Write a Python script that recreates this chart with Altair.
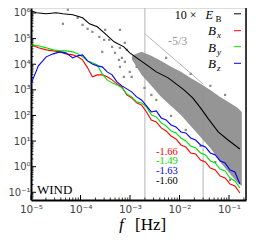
import altair as alt
import pandas as pd

# ---------------- data ----------------
freq = [1.0e-5, 1.41e-5, 2.03e-5, 2.80e-5, 3.85e-5, 5.07e-5, 6.98e-5, 8.77e-5, 1.10e-4, 1.39e-4,
        1.74e-4, 2.19e-4, 2.75e-4, 3.46e-4, 4.35e-4, 5.46e-4, 6.86e-4, 8.62e-4, 1.08e-3, 1.36e-3,
        1.71e-3, 2.15e-3, 2.70e-3, 3.40e-3, 4.27e-3, 5.37e-3, 6.75e-3, 8.48e-3, 1.07e-2, 1.34e-2,
        1.68e-2, 2.12e-2, 2.66e-2, 3.34e-2, 4.20e-2, 5.28e-2, 6.63e-2, 8.34e-2, 0.105, 0.132, 0.166]
bx = [5.71e4, 4.36e4, 3.64e4, 3.33e4, 3.04e4, 2.54e4, 2.32e4, 1.94e4, 1.48e4, 7.21e3,
      3.21e3, 3.84e3, 3.84e3, 3.21e3, 2.45e3, 1.71e3, 1.30e3, 634, 484, 309,
      258, 137, 66.8, 55.8, 32.5, 24.8, 15.8, 12.1, 7.04, 5.88,
      3.43, 3.13, 1.82, 1.52, 0.888, 0.742, 0.432, 0.361, 0.210, 0.176, 0.0936]
by = [5.71e4, 5.22e4, 4.36e4, 3.64e4, 3.33e4, 3.33e4, 3.04e4, 2.54e4, 1.94e4, 1.35e4,
      1.13e4, 9.44e3, 4.20e3, 2.45e3, 1.87e3, 1.56e3, 1.19e3, 694, 530, 338,
      309, 215, 105, 87.5, 51.0, 38.9, 24.8, 20.7, 13.2, 10.1,
      6.44, 5.37, 3.43, 2.86, 1.67, 1.39, 0.812, 0.678, 0.361, 0.276, 0.147]
bz = [1.71e3, 8.63e3, 1.94e4, 2.54e4, 3.04e4, 2.78e4, 1.77e4, 2.12e4, 2.32e4, 1.35e4,
      1.03e4, 8.63e3, 7.89e3, 5.03e3, 3.84e3, 2.05e3, 1.43e3, 1.09e3, 831, 530,
      404, 236, 137, 150, 80.0, 66.8, 42.6, 35.6, 22.7, 20.7,
      13.2, 11.0, 7.04, 5.88, 3.43, 2.86, 1.67, 1.39, 0.742, 0.620, 0.210]

eb_f = [1.0e-5, 1.29e-5, 2.03e-5, 3.21e-5, 4.42e-5, 6.98e-5, 1.10e-4, 1.52e-4, 2.19e-4, 3.02e-4,
        4.77e-4, 7.52e-4, 9.89e-4, 1.56e-3, 2.47e-3, 3.40e-3, 5.91e-3, 8.53e-3, 1.23e-2, 1.85e-2,
        2.66e-2, 3.83e-2, 6.05e-2, 9.57e-2, 0.166]
eb_v = [1.22e6, 1.02e6, 9.3e5, 1.02e6, 9.3e5, 8.5e5, 6.5e5, 3.78e5, 2.88e5, 1.68e5,
        7.48e4, 4.77e4, 2.78e4, 1.48e4, 7.88e3, 5.03e3, 2.93e3, 1.71e3, 995, 484,
        197, 73.1, 22.7, 11.0, 4.91]

band_f = [1.1e-3, 1.71e-3, 2.70e-3, 4.27e-3, 6.75e-3, 1.07e-2, 1.68e-2, 2.66e-2, 4.20e-2, 6.63e-2, 0.105, 0.151, 0.181]
band_hi = [2.2e4, 3.04e4, 2.12e4, 1.35e4, 7.89e3, 5.03e3, 2.93e3, 1.71e3, 995, 530, 309, 197, 137]
band_lo = [1.5e4, 3.84e3, 1.43e3, 530, 236, 105, 38.9, 14.5, 5.37, 1.52, 0.518, 0.230, 0.176]

pts_f = [5.55e-5, 4.42e-5, 8.77e-5, 1.10e-4, 1.39e-4, 1.74e-4, 2.40e-4, 3.15e-4, 3.01e-4, 3.79e-4,
         2.75e-4, 4.35e-4, 4.98e-4, 6.26e-4, 6.26e-4, 6.86e-4, 7.87e-4, 7.87e-4, 8.62e-4, 5.98e-4,
         6.26e-4, 9.89e-4, 1.19e-3, 1.36e-3, 7.52e-4, 1.08e-3, 1.96e-3, 2.70e-3, 3.40e-3, 6.75e-3,
         1.34e-2, 2.66e-2, 5.28e-2, 0.105, 5.37e-3, 1.68e-2, 4.20e-2, 8.34e-2]
pts_v = [1.33e6, 3.78e5, 6.49e5, 3.46e5, 2.41e5, 1.84e5, 1.17e5, 2.20e5, 8.96e4, 8.96e4,
         3.04e4, 4.77e4, 2.78e4, 2.20e5, 4.36e4, 1.77e4, 6.84e4, 1.24e4, 3.64e4, 1.48e4,
         7.89e3, 5.03e3, 1.77e4, 7.89e3, 3.21e3, 3.21e3, 1.19e3, 634, 404, 95.8,
         27.2, 6.44, 1.52, 0.302, 1.77e4, 4.20e3, 1.43e3, 634]

vline_f = [2e-3, 0.03]
vline_top = [1.6e6, 1.2e3]
vline_bot = [0.05, 0.05]

ref_f = [2e-3, 3e-2]
ref_v = [1.54e5, 1.69e3]

series_names = ["Bx", "By", "Bz"]
series_colors = ["#ff0000", "#00e000", "#0000ff"]
slope_texts = ["-1.66", "-1.49", "-1.63", "-1.60"]
slope_colors = ["#ff0000", "#00e000", "#0000ff", "#000000"]
legend_subs = ["x", "y", "z"]
x_ticks = [1e-5, 1e-4, 1e-3, 1e-2, 1e-1]
y_ticks = [1e-1, 1e0, 1e1, 1e2, 1e3, 1e4, 1e5, 1e6]

# ---------------- layout (page pixels) ----------------
L, T = 31, 8          # plot-area origin on the page
W, H = 215, 192
SERIF = "Liberation Serif"
xs = alt.Scale(type="log", domain=[1e-5, 0.2205], nice=False)
ys = alt.Scale(type="log", domain=[0.05, 1.567e6], nice=False)

sup = {-5: "⁻⁵", -4: "⁻⁴", -3: "⁻³", -2: "⁻²", -1: "⁻¹", 0: "⁰", 1: "¹", 2: "²",
       3: "³", 4: "⁴", 5: "⁵", 6: "⁶"}
E = "round(log(datum.value)/LN10)"
label_expr = " : ".join(f"{E} == {k} ? '10{s}'" for k, s in sup.items()) + " : ''"

xaxis = alt.Axis(values=x_ticks, labelExpr=label_expr, ticks=False, grid=False, title=None,
                 domainColor="black", domainWidth=2, labelFont="DejaVu Sans", labelFontSize=10.5,
                 labelColor="#444", labelPadding=4, labelFlush=False, labelOverlap=False)
yaxis = alt.Axis(values=y_ticks, labelExpr=label_expr, ticks=False, grid=False, title=None,
                 domainColor="black", domainWidth=2, labelFont="DejaVu Sans", labelFontSize=10,
                 labelColor="#444", labelPadding=1, labelFlush=False, labelOverlap=False)


def X(field):
    return alt.X(field, type="quantitative", scale=xs, axis=xaxis)


def Y(field):
    return alt.Y(field, type="quantitative", scale=ys, axis=yaxis)


comp = pd.DataFrame({
    "f": freq * 3,
    "v": bx + by + bz,
    "s": [n for n in series_names for _ in freq],
})
eb = pd.DataFrame({"f": eb_f, "v": eb_v})
band = pd.DataFrame({"f": band_f, "hi": band_hi, "lo": band_lo})
pts = pd.DataFrame({"f": pts_f, "v": pts_v})
vl = pd.DataFrame({"f": vline_f, "top": vline_top, "bot": vline_bot})
ref = pd.DataFrame({"f": ref_f, "v": ref_v})

layers = []
layers.append(alt.Chart(vl).mark_rule(color="#b4b4b4", strokeWidth=1).encode(
    x=X("f"), y=Y("top"), y2="bot"))
layers.append(alt.Chart(ref).mark_line(color="#b4b4b4", strokeWidth=1).encode(x=X("f"), y=Y("v")))
layers.append(alt.Chart(band).mark_area(color="#8c8c8c", opacity=0.92).encode(
    x=X("f"), y=Y("hi"), y2="lo"))
layers.append(alt.Chart(pts).mark_square(color="#8c8c8c", size=5, opacity=1).encode(
    x=X("f"), y=Y("v")))
layers.append(alt.Chart(eb).mark_line(color="black", strokeWidth=1.1).encode(x=X("f"), y=Y("v")))
layers.append(alt.Chart(comp).mark_line(strokeWidth=1.1).encode(
    x=X("f"), y=Y("v"),
    color=alt.Color("s:N", scale=alt.Scale(domain=series_names, range=series_colors), legend=None)))

# inward ticks
minor_x = [m * 10.0 ** k for k in range(-5, 0) for m in range(2, 10) if m * 10.0 ** k < 0.22]
minor_y = [m * 10.0 ** k for k in range(-2, 7) for m in range(2, 10)
           if 0.05 < m * 10.0 ** k < 1.5e6]
layers.append(alt.Chart(pd.DataFrame({"f": x_ticks})).mark_rule(color="black", strokeWidth=1).encode(
    x=X("f"), y=alt.value(H), y2=alt.value(H - 5)))
layers.append(alt.Chart(pd.DataFrame({"f": minor_x})).mark_rule(color="black", strokeWidth=0.8).encode(
    x=X("f"), y=alt.value(H), y2=alt.value(H - 2.5)))
layers.append(alt.Chart(pd.DataFrame({"v": y_ticks})).mark_rule(color="black", strokeWidth=1).encode(
    y=Y("v"), x=alt.value(0), x2=alt.value(5)))
layers.append(alt.Chart(pd.DataFrame({"v": minor_y})).mark_rule(color="black", strokeWidth=0.8).encode(
    y=Y("v"), x=alt.value(0), x2=alt.value(2.5)))
# right spine
layers.append(alt.Chart(pd.DataFrame({"a": [0]})).mark_rule(color="black", strokeWidth=1.5).encode(
    x=alt.value(W), y=alt.value(0), y2=alt.value(H)))


def txt(s, px, py, size=12, color="black", align="left", style="normal", font=SERIF):
    # px, py: position on the page (reference pixels)
    return alt.Chart(pd.DataFrame({"t": [s]})).mark_text(
        align=align, baseline="alphabetic", font=font, fontSize=size, color=color,
        fontStyle=style).encode(text="t:N", x=alt.value(px - L), y=alt.value(py - T))


def seg(px1, px2, py, color):
    return alt.Chart(pd.DataFrame({"a": [0]})).mark_rule(color=color, strokeWidth=1).encode(
        x=alt.value(px1 - L), x2=alt.value(px2 - L), y=alt.value(py - T))


# legend
layers.append(txt("10 ×", 196.5, 19, size=12, align="right"))
layers.append(txt("E", 205.5, 19, size=12.5, style="italic"))
layers.append(txt("B", 215.5, 21.5, size=9))
layers.append(seg(234, 241, 13.8, "black"))
leg_base = [35, 52, 68]
leg_line = [30.7, 46.7, 63.3]
for sub, col, b, ly in zip(legend_subs, series_colors, leg_base, leg_line):
    layers.append(txt("B", 208, b, size=13, style="italic"))
    layers.append(txt(sub, 217, b + 3, size=9, style="italic"))
    layers.append(seg(234, 241, ly, col))

# annotations
layers.append(txt("-5/3", 168, 45, size=12, color="#999999"))
for i, (s, c) in enumerate(zip(slope_texts, slope_colors)):
    layers.append(txt(s, 156, 154.5 + 9.8 * i, size=10.5, color=c))
layers.append(txt("WIND", 37, 194, size=13))
layers.append(txt("f", 119, 229.5, size=17, style="italic"))
layers.append(txt("[Hz]", 135, 229.5, size=17))

chart = alt.layer(*layers).properties(
    width=W, height=H,
    autosize=alt.AutoSizeParams(type="none"),
    padding={"left": L - 8, "top": T - 8, "right": 1, "bottom": 33},
).configure_view(stroke=None).configure(background="white")

chart.save("out.html", embed_options={"renderer": "svg", "actions": False})
